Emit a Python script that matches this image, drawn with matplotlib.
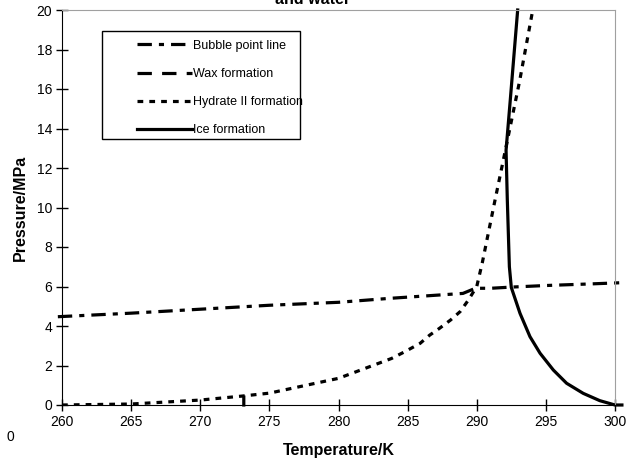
import matplotlib.pyplot as plt
import numpy as np
from matplotlib.patches import Rectangle

plt.rcParams['font.family'] = ['Liberation Sans', 'DejaVu Sans']

# Bubble point line
bubble_T = [259.7, 265, 270, 275, 280, 283.7, 289.0, 289.9, 291.0, 292.5, 295, 298.2, 300.4]
bubble_P = [4.47, 4.65, 4.85, 5.05, 5.2, 5.4, 5.65, 5.91, 5.91, 5.97, 6.05, 6.13, 6.19]

# Wax formation (not visible in the plotted range)
wax_T = []
wax_P = []

# Hydrate II formation
hyd_T = [260, 265, 270, 273, 275, 280, 283.85, 284.8, 285.9, 286.6, 287.3, 288.1, 288.8, 289.4,
         290.0, 290.4, 291.3, 292.1, 293.1, 294.05]
hyd_P = [0, 0.05, 0.25, 0.45, 0.6, 1.35, 2.36, 2.7, 3.12, 3.54, 3.88, 4.3, 4.73, 5.32,
         6.0, 7.2, 10.3, 13.0, 16.4, 20]

# Ice formation (nan separates the pure-water ice line at 273.15 K)
ice_T = [273.15, 273.15, np.nan, 292.96, 292.42, 292.12, 292.21, 292.36, 292.5,
         293.13, 293.85, 294.58, 295.54, 296.5, 297.7, 298.9, 300.0, 300.5]
ice_P = [0, 0.4, np.nan, 20, 15.4, 12.9, 10.4, 7.0, 5.95,
         4.64, 3.46, 2.62, 1.77, 1.10, 0.59, 0.22, 0.0, 0.0]

fig = plt.figure(figsize=(6.37, 4.75), dpi=100)
ax = fig.add_axes([62 / 637, 1 - 405 / 475, 553 / 637, 395 / 475])

lw = 2.3
l1, = ax.plot(bubble_T, bubble_P, color='black', lw=lw, ls=(0, (4.5, 2.2, 1.6, 2.2)),
              label='Bubble point line', clip_on=False)
l2, = ax.plot(wax_T, wax_P, color='black', lw=lw, ls=(0, (4.5, 3.2)), label='Wax formation')
l3, = ax.plot(hyd_T, hyd_P, color='black', lw=lw, ls=(0, (1.8, 1.9)), label='Hydrate II formation')
l4, = ax.plot(ice_T, ice_P, color='black', lw=lw, ls='-', label='Ice formation', clip_on=False)

ax.set_xlim(260, 300)
ax.set_ylim(0, 20)
ax.set_xticks(np.arange(260, 301, 5))
ax.set_yticks(np.arange(0, 21, 2))
ax.tick_params(direction='inout', length=8, width=1, labelsize=10, pad=3)
for s in ['top', 'right']:
    ax.spines[s].set_color('#a0a0a0')
for s in ['left', 'bottom']:
    ax.spines[s].set_color('black')

ax.set_xlabel('Temperature/K', fontsize=11.5, fontweight='bold', labelpad=10)
ax.set_ylabel('Pressure/MPa', fontsize=11.5, fontweight='bold', labelpad=6)

ax.add_patch(Rectangle((0.072, 0.673), 0.358, 0.274, transform=ax.transAxes,
                       facecolor='white', edgecolor='black', lw=1, zorder=3))
ax.legend(handles=[l1, l2, l3, l4], loc='upper left', bbox_to_anchor=(0.136, 0.925),
          frameon=False, fontsize=9, handlelength=4.4, handletextpad=0.1,
          labelspacing=1.3, borderaxespad=0, borderpad=0)

fig.text(0.49, 1.0, 'and water', ha='center', va='center', fontsize=11.5, fontweight='bold')
fig.text(0.016, 1 - 437 / 475, '0', ha='center', va='center', fontsize=10)

fig.savefig('out.png', dpi=100)
